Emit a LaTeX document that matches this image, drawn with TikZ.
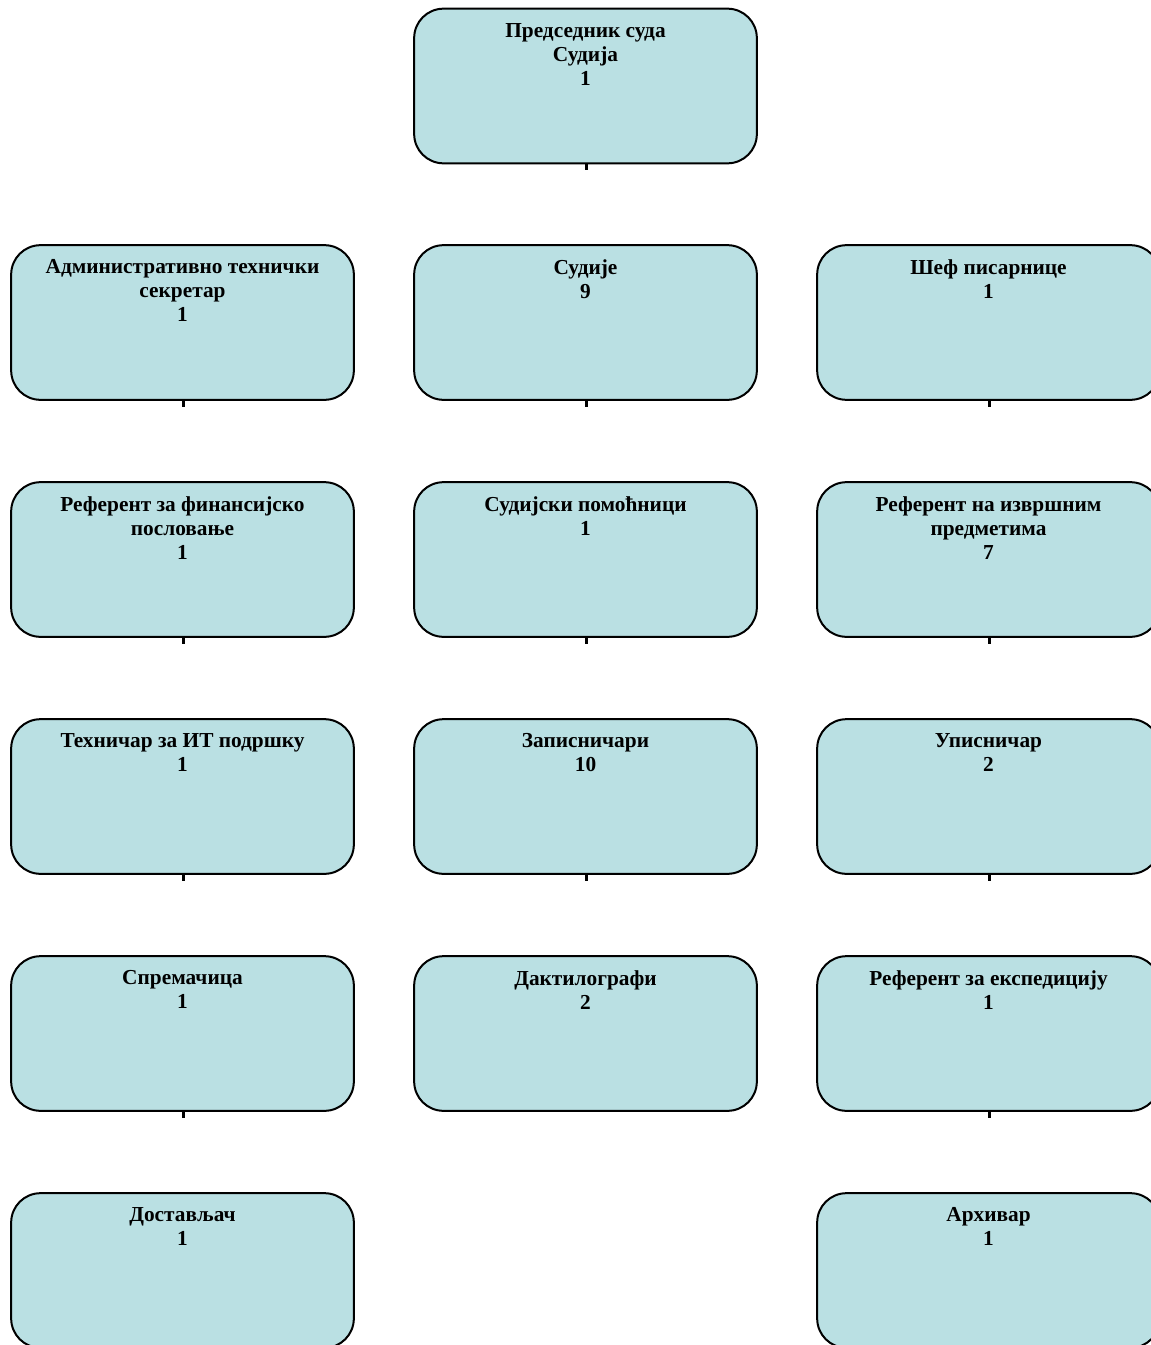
\documentclass[tikz,border=0pt]{standalone}
\usepackage{fontspec}
\setmainfont{Liberation Serif}
\usetikzlibrary{positioning}
\definecolor{boxfill}{RGB}{186,224,227}
\tikzstyle{post} = [rectangle, rounded corners=22pt, minimum width=257pt, minimum height=116pt, draw=black, line width=1.5pt, fill=boxfill]
\tikzstyle{posttext} = [anchor=north, yshift=-11.5pt, inner sep=0pt, align=center, font=\bfseries\fontsize{16}{18}\selectfont]
\tikzstyle{stub} = [line width=2.2pt]

\begin{document}
\begin{tikzpicture}[x=0.75pt,y=-0.75pt]
\useasboundingbox (0,0) rectangle (1151,1345);
% boxes
\node [post] (pred) at (585.5,86) {};
\node [post] (admin) at (182.5,322.5) {};
\node [post] (sudije) at (585.5,322.5) {};
\node [post] (sef) at (988.5,322.5) {};
\node [post] (finans) at (182.5,559.5) {};
\node [post] (pomocnici) at (585.5,559.5) {};
\node [post] (izvrsni) at (988.5,559.5) {};
\node [post] (itpodrska) at (182.5,796.5) {};
\node [post] (zapisnicari) at (585.5,796.5) {};
\node [post] (upisnicar) at (988.5,796.5) {};
\node [post] (spremacica) at (182.5,1033.5) {};
\node [post] (daktilografi) at (585.5,1033.5) {};
\node [post] (ekspedicija) at (988.5,1033.5) {};
\node [post] (dostavljac) at (182.5,1270.5) {};
\node [post] (arhivar) at (988.5,1270.5) {};
% texts
\node [posttext] at (pred.north) {Председник суда\\Судија\\1};
\node [posttext] at (admin.north) {Административно технички\\секретар\\1};
\node [posttext] at (sudije.north) {Судије\\9};
\node [posttext] at (sef.north) {Шеф писарнице\\1};
\node [posttext] at (finans.north) {Референт за финансијско\\пословање\\1};
\node [posttext] at (pomocnici.north) {Судијски помоћници\\1};
\node [posttext] at (izvrsni.north) {Референт на извршним\\предметима\\7};
\node [posttext] at (itpodrska.north) {Техничар за ИТ подршку\\1};
\node [posttext] at (zapisnicari.north) {Записничари\\10};
\node [posttext] at (upisnicar.north) {Уписничар\\2};
\node [posttext] at (spremacica.north) {Спремачица\\1};
\node [posttext] at (daktilografi.north) {Дактилографи\\2};
\node [posttext] at (ekspedicija.north) {Референт за експедицију\\1};
\node [posttext] at (dostavljac.north) {Достављач\\1};
\node [posttext] at (arhivar.north) {Архивар\\1};
% stubs under the boxes
\foreach \b in {pred,admin,sudije,sef,finans,pomocnici,izvrsni,itpodrska,zapisnicari,upisnicar,spremacica,ekspedicija}
  \draw [stub] ([xshift=1pt]\b.south) -- ++(0,6);
\end{tikzpicture}
\end{document}
